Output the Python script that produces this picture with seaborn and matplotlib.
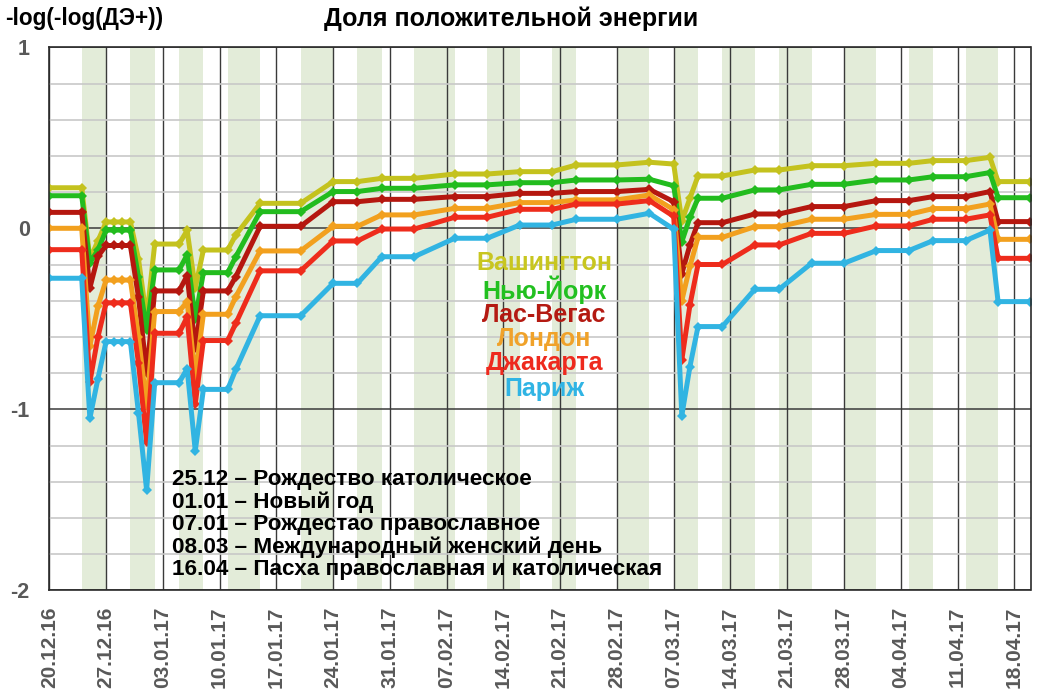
import matplotlib
matplotlib.use("Agg")
import matplotlib.pyplot as plt
import matplotlib.dates as mdates
import seaborn as sns
import pandas as pd
import numpy as np

# ---------------- data ----------------
dates = ["2016-12-20", "2016-12-24", "2016-12-25", "2016-12-26", "2016-12-27", "2016-12-28",
         "2016-12-29", "2016-12-30", "2016-12-31", "2017-01-01", "2017-01-02", "2017-01-05",
         "2017-01-06", "2017-01-07", "2017-01-08", "2017-01-11", "2017-01-12", "2017-01-15",
         "2017-01-20", "2017-01-24", "2017-01-27", "2017-01-30", "2017-02-03", "2017-02-08",
         "2017-02-12", "2017-02-16", "2017-02-20", "2017-02-23", "2017-02-28", "2017-03-04",
         "2017-03-07", "2017-03-08", "2017-03-09", "2017-03-10", "2017-03-13", "2017-03-17",
         "2017-03-20", "2017-03-24", "2017-03-28", "2017-04-01", "2017-04-05", "2017-04-08",
         "2017-04-12", "2017-04-15", "2017-04-16", "2017-04-20"]

washington = [0.224, 0.224, -0.17, -0.07, 0.035, 0.035, 0.035, 0.035, -0.17, -0.5, -0.087, -0.087,
              -0.012, -0.33, -0.12, -0.12, -0.037, 0.138, 0.138, 0.258, 0.258, 0.276, 0.276, 0.30,
              0.30, 0.313, 0.313, 0.35, 0.35, 0.365, 0.355, 0.04, 0.166, 0.289, 0.289, 0.322,
              0.322, 0.346, 0.346, 0.359, 0.359, 0.374, 0.374, 0.392, 0.258, 0.258]
new_york = [0.18, 0.18, -0.19, -0.12, -0.01, -0.01, -0.01, -0.01, -0.27, -0.56, -0.23, -0.23,
            -0.147, -0.5, -0.245, -0.245, -0.157, 0.092, 0.092, 0.203, 0.203, 0.221, 0.221, 0.24,
            0.24, 0.252, 0.252, 0.267, 0.267, 0.271, 0.235, -0.074, 0.06, 0.166, 0.166, 0.212,
            0.212, 0.243, 0.243, 0.267, 0.267, 0.285, 0.285, 0.308, 0.169, 0.169]
las_vegas = [0.088, 0.088, -0.33, -0.155, -0.095, -0.095, -0.095, -0.095, -0.38, -0.8, -0.346, -0.346,
             -0.262, -0.66, -0.346, -0.346, -0.267, 0.011, 0.011, 0.147, 0.147, 0.16, 0.16, 0.175,
             0.175, 0.193, 0.193, 0.203, 0.203, 0.215, 0.147, -0.25, -0.092, 0.031, 0.031, 0.079,
             0.079, 0.12, 0.12, 0.153, 0.153, 0.175, 0.175, 0.203, 0.037, 0.037]
london = [0.0, 0.0, -0.65, -0.43, -0.286, -0.286, -0.286, -0.286, -0.6, -0.98, -0.46, -0.46,
          -0.405, -0.82, -0.475, -0.475, -0.378, -0.125, -0.125, 0.011, 0.011, 0.074, 0.074, 0.11,
          0.11, 0.142, 0.142, 0.157, 0.157, 0.184, 0.103, -0.4, -0.21, -0.05, -0.05, 0.009,
          0.009, 0.05, 0.05, 0.077, 0.077, 0.109, 0.109, 0.134, -0.061, -0.061]
jakarta = [-0.118, -0.118, -0.85, -0.6, -0.412, -0.412, -0.412, -0.412, -0.745, -1.18, -0.58, -0.58,
           -0.49, -0.97, -0.62, -0.62, -0.525, -0.235, -0.235, -0.07, -0.07, -0.004, -0.004, 0.061,
           0.061, 0.105, 0.105, 0.134, 0.134, 0.153, 0.066, -0.727, -0.424, -0.2, -0.2, -0.092,
           -0.092, -0.028, -0.028, 0.013, 0.013, 0.05, 0.05, 0.074, -0.166, -0.166]
paris = [-0.276, -0.276, -1.05, -0.83, -0.626, -0.626, -0.626, -0.626, -1.02, -1.446, -0.853, -0.853,
         -0.776, -1.23, -0.89, -0.89, -0.78, -0.483, -0.483, -0.304, -0.304, -0.157, -0.157, -0.055,
         -0.055, 0.018, 0.018, 0.05, 0.05, 0.083, -0.005, -1.035, -0.764, -0.543, -0.543, -0.337,
         -0.337, -0.193, -0.193, -0.123, -0.123, -0.068, -0.068, -0.01, -0.405, -0.405]

cities = ["Вашингтон", "Нью-Йорк", "Лас-Вегас", "Лондон", "Джакарта", "Париж"]
line_colors = ["#C4C21E", "#22BC1E", "#B5170F", "#F2A01E", "#EE2C1C", "#31B4E2"]
text_colors = ["#C8C620", "#22C020", "#B41A12", "#F0A22A", "#EE2A1E", "#30B4E4"]

# shaded periods (weekends / holidays)
band_starts = ["2016-12-24", "2016-12-30", "2017-01-05", "2017-01-11", "2017-01-20", "2017-01-27",
               "2017-02-03", "2017-02-12", "2017-02-20", "2017-02-28", "2017-03-07", "2017-03-13",
               "2017-03-20", "2017-03-28", "2017-04-05", "2017-04-12"]
band_ends = ["2016-12-27", "2017-01-02", "2017-01-08", "2017-01-15", "2017-01-24", "2017-01-30",
             "2017-02-08", "2017-02-16", "2017-02-23", "2017-03-04", "2017-03-10", "2017-03-17",
             "2017-03-24", "2017-04-01", "2017-04-08", "2017-04-16"]

tick_dates = pd.date_range("2016-12-20", "2017-04-18", freq="7D")
y_ticks = [-2, -1, 0, 1]

notes = ["25.12 – Рождество католическое",
         "01.01 – Новый год",
         "07.01 – Рождестао православное",
         "08.03 – Международный женский день",
         "16.04 – Пасха православная и католическая"]

title = "Доля положительной энергии"
ylabel = "-log(-log(ДЭ+))"

# ---------------- plot ----------------
sns.set_style("white")
plt.rcParams['font.family'] = ['Liberation Sans', 'DejaVu Sans']
plt.rcParams['axes.unicode_minus'] = False

W, H = 1050, 700
fig = plt.figure(figsize=(W / 100, H / 100), dpi=100)
L, R, T, B = 49.3, 1030.5, 47.3, 590.3
ax = fig.add_axes([L / W, 1 - B / H, (R - L) / W, (B - T) / H])

for s, e in zip(band_starts, band_ends):
    ax.axvspan(pd.Timestamp(s), pd.Timestamp(e), color="#E3ECD9", lw=0, zorder=0)

series = [washington, new_york, las_vegas, london, jakarta, paris]
df = pd.concat([pd.DataFrame({"date": pd.to_datetime(dates), "value": v, "city": c})
                for c, v in zip(cities, series)], ignore_index=True)

sns.lineplot(data=df, x="date", y="value", hue="city", hue_order=cities,
             palette=dict(zip(cities, line_colors)), marker="D", markersize=5,
             markeredgewidth=0, linewidth=3.6, legend=False, errorbar=None, ax=ax)

ax.set_xlim(pd.Timestamp("2016-12-20"), pd.Timestamp("2017-04-20"))
ax.set_ylim(-2, 1)
ax.set_yticks(y_ticks)
ax.set_yticks(np.arange(-2, 1.001, 0.2), minor=True)
ax.set_xticks(tick_dates)
ax.xaxis.set_major_formatter(mdates.DateFormatter('%d.%m.%y'))

ax.set_axisbelow(True)
ax.grid(which='minor', axis='y', color='#C8C8C8', lw=1.2)
ax.grid(which='major', axis='y', color='#3A3A3A', lw=1.1)
ax.grid(which='major', axis='x', color='#3A3A3A', lw=1.0)

ax.tick_params(axis='both', which='both', length=0)
ax.tick_params(axis='x', pad=12)
ax.tick_params(axis='y', pad=14)
for lab in ax.get_xticklabels():
    lab.set_rotation(90)
    lab.set_fontsize(15)
    lab.set_fontweight('bold')
    lab.set_color('#595959')
for lab in ax.get_yticklabels():
    lab.set_fontsize(15.5)
    lab.set_fontweight('bold')
    lab.set_color('#595959')

for sp in ax.spines.values():
    sp.set_visible(True)
    sp.set_color('#2A2A2A')
    sp.set_linewidth(1.2)

ax.set_xlabel("")
ax.set_ylabel("")

fig.text(511 / W, 1 - 19 / H, title, ha='center', va='center', fontsize=18,
         fontweight='bold', color='black')
fig.text(5 / W, 1 - 19 / H, ylabel, ha='left', va='center', fontsize=16.3,
         fontweight='bold', color='black')

label_y = [263, 290, 315, 339, 363, 389]
for name, col, yy in zip(cities, text_colors, label_y):
    fig.text(544 / W, 1 - yy / H, name, ha='center', va='center', fontsize=18,
             fontweight='bold', color=col)

for i, note in enumerate(notes):
    fig.text(172 / W, 1 - (480 + 22.4 * i) / H, note, ha='left', va='center',
             fontsize=16.2, fontweight='bold', color='black')

fig.savefig("out.png", dpi=100)
